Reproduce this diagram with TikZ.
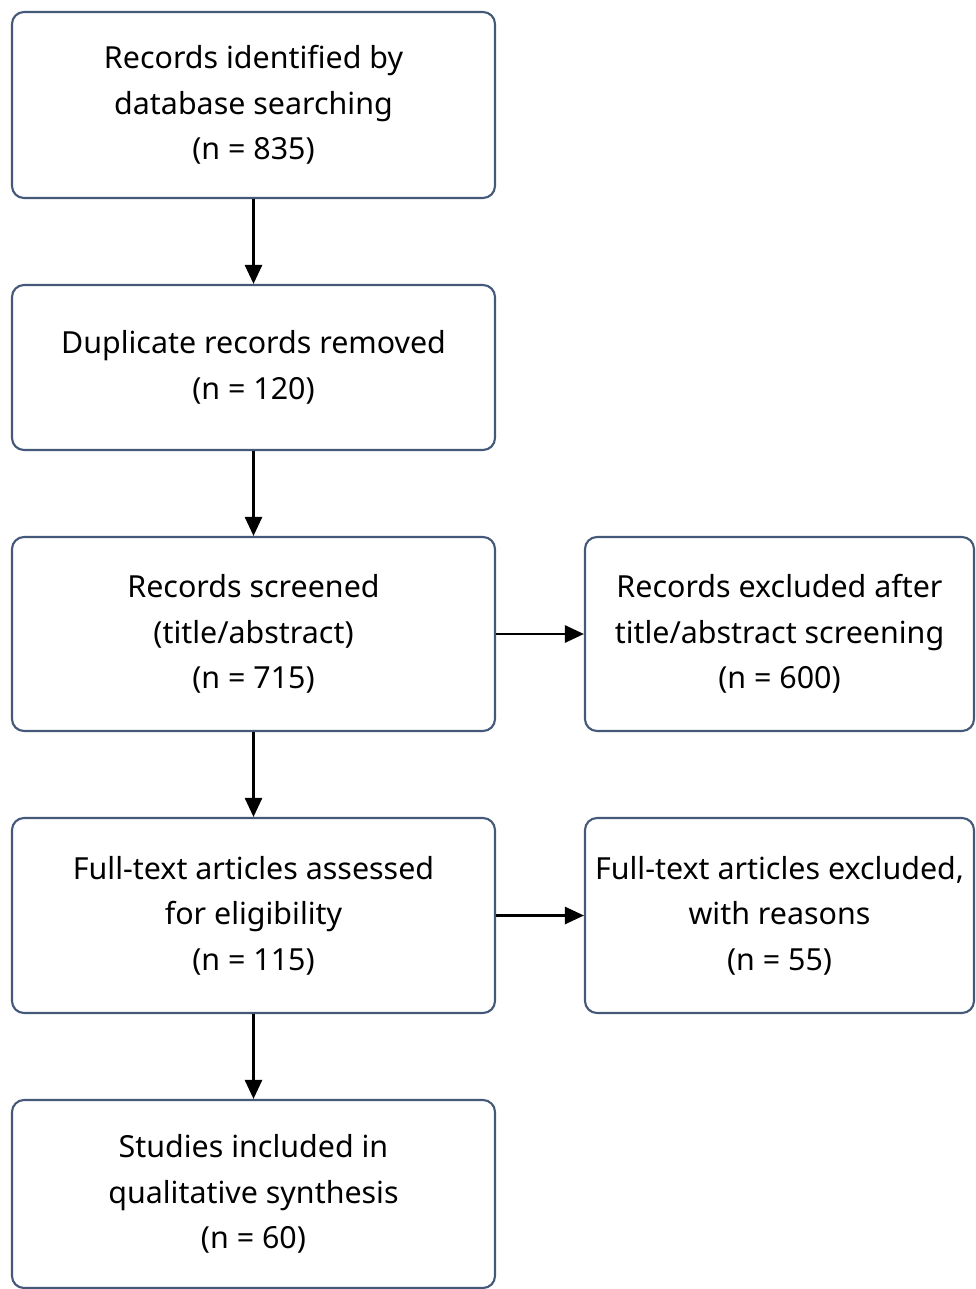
\documentclass[tikz,border=0pt]{standalone}
\usepackage{fontspec}
\setmainfont{Noto Sans}
\usetikzlibrary{arrows.meta}
\definecolor{boxline}{HTML}{44597A}
\tikzset{
  box/.style={draw=boxline, line width=1.2pt, rounded corners=0.24cm, align=center,
    font=\fontsize{17.3}{25.8}\selectfont, inner sep=0pt},
  arr/.style={-{Triangle[length=0.38cm,width=0.34cm]}, line width=1.5pt}
}
\begin{document}
\begin{tikzpicture}
        \useasboundingbox (0,0) rectangle (19.52,-25.78);
        \node[box, minimum width=9.66cm, minimum height=3.72cm] (A) at (5.07,-2.1) {Records identified by\\database searching\\(n = 835)};
        \node[box, minimum width=9.66cm, minimum height=3.3cm] (B) at (5.07,-7.35) {Duplicate records removed\\(n = 120)};
        \node[box, minimum width=9.66cm, minimum height=3.88cm] (C) at (5.07,-12.68) {Records screened\\(title/abstract)\\(n = 715)};
        \node[box, minimum width=9.66cm, minimum height=3.9cm] (D) at (5.07,-18.31) {Full-text articles assessed\\for eligibility\\(n = 115)};
        \node[box, minimum width=9.66cm, minimum height=3.76cm] (E) at (5.07,-23.88) {Studies included in\\qualitative synthesis\\(n = 60)};
        \node[box, minimum width=7.78cm, minimum height=3.88cm] (F) at (15.59,-12.68) {Records excluded after\\title/abstract screening\\(n = 600)};
        \node[box, minimum width=7.78cm, minimum height=3.9cm] (G) at (15.59,-18.31) {Full-text articles excluded,\\with reasons\\(n = 55)};
        \draw [arr] (A) -- (B);
        \draw [arr] (B) -- (C);
        \draw [arr] (C) -- (D);
        \draw [arr] (D) -- (E);
        \draw [arr] (C) -- (F);
        \draw [arr] (D) -- (G);
    \end{tikzpicture}
\end{document}
